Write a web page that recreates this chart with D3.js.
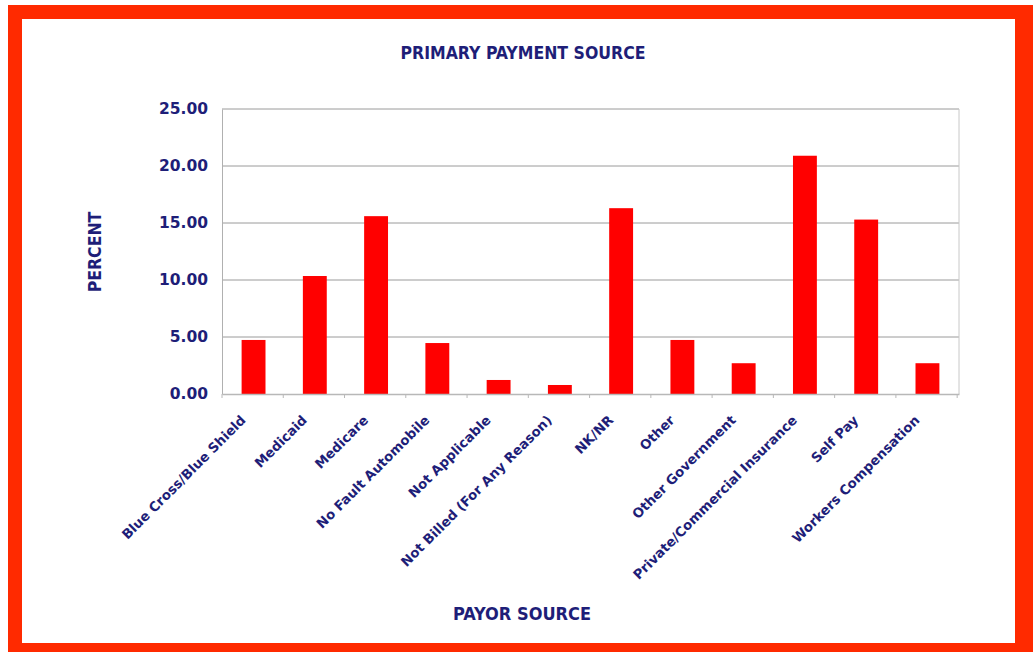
<!DOCTYPE html>
<html><head><meta charset="utf-8">
<script src="https://cdn.jsdelivr.net/npm/d3@7"></script>
<style>
html,body{margin:0;padding:0;background:#fff;}
svg{display:block;}
</style></head>
<body>
<svg id="chart" width="1033" height="652"></svg>
<script>
const categories = ["Blue Cross/Blue Shield","Medicaid","Medicare","No Fault Automobile","Not Applicable","Not Billed (For Any Reason)","NK/NR","Other","Other Government","Private/Commercial Insurance","Self Pay","Workers Compensation"];
const percents = [4.74, 10.35, 15.6, 4.47, 1.23, 0.79, 16.3, 4.74, 2.7, 20.9, 15.3, 2.7];
const yTicks = [0, 5, 10, 15, 20, 25];
const chartTitle = "PRIMARY PAYMENT SOURCE";
const xTitle = "PAYOR SOURCE";
const yTitle = "PERCENT";

(function(){
const svg = d3.select("#chart");
const navy = "#1e1e78";
const fontC = "'DejaVu Sans Condensed','DejaVu Sans',sans-serif";
const fontW = "'DejaVu Sans',sans-serif";

// frame
svg.append("rect").attr("x",8).attr("y",5).attr("width",1025).attr("height",647).attr("fill","#ff2a00");
svg.append("rect").attr("x",22).attr("y",19).attr("width",993).attr("height",624).attr("fill","#fff");

const pL = 222, pR = 959, pT = 109, pB = 394;
const x = d3.scaleBand().domain(categories).range([pL, pR]).paddingInner(0.61).paddingOuter(0.32);
const y = d3.scaleLinear().domain([0, 25]).range([pB, pT]);

// gridlines
svg.append("g").selectAll("line").data(yTicks.filter(d=>d>0)).join("line")
  .attr("x1", pL).attr("x2", pR).attr("y1", d=>y(d)).attr("y2", d=>y(d))
  .attr("stroke", "#9a9a9a").attr("stroke-width", 1);
svg.append("line").attr("x1", pR).attr("x2", pR).attr("y1", pT).attr("y2", pB).attr("stroke","#c8c8c8");

// y axis
const yAxis = d3.axisLeft(y).tickValues(yTicks).tickFormat(d3.format(".2f")).tickSize(0).tickPadding(14);
const gy = svg.append("g").attr("transform", `translate(${pL},0)`).call(yAxis);
gy.select(".domain").attr("stroke", "#b0b0b0");
gy.selectAll("text").attr("fill", navy).attr("font-family", fontW).attr("font-weight","bold").attr("font-size", 15.5);

// bars
svg.append("g").selectAll("rect").data(categories).join("rect")
  .attr("x", d=>x(d)).attr("width", x.bandwidth())
  .attr("y", (d,i)=>y(percents[i])).attr("height", (d,i)=>y(0)-y(percents[i]))
  .attr("fill", "#ff0000");

// x axis
const xAxis = d3.axisBottom(x).tickSize(0).tickPadding(0);
const gx = svg.append("g").attr("transform", `translate(0,${pB})`).call(xAxis);
gx.select(".domain").attr("stroke", "#b8b8b8").attr("stroke-width", 1.5);
const step = x.step();
svg.append("g").selectAll("line").data(d3.range(categories.length+1)).join("line")
  .attr("x1", i=>pL + i*step).attr("x2", i=>pL + i*step)
  .attr("y1", pB).attr("y2", pB+4).attr("stroke", "#b8b8b8");
gx.selectAll(".tick text")
  .attr("fill", navy).attr("font-family", fontW).attr("font-weight","bold").attr("font-size", 13.3)
  .attr("text-anchor","end").attr("dy", 0)
  .attr("transform", "translate(-7,27) rotate(-45)");

// titles
svg.append("text").attr("x", 523).attr("y", 59).attr("text-anchor","middle")
  .attr("fill", navy).attr("font-family", fontC).attr("font-weight","bold").attr("font-size", 17.5).text(chartTitle);
svg.append("text").attr("x", 522).attr("y", 620).attr("text-anchor","middle")
  .attr("fill", navy).attr("font-family", fontC).attr("font-weight","bold").attr("font-size", 18).text(xTitle);
svg.append("text").attr("transform", "translate(101,252) rotate(-90)").attr("text-anchor","middle")
  .attr("fill", navy).attr("font-family", fontC).attr("font-weight","bold").attr("font-size", 17.5).text(yTitle);
})();
</script>
</body></html>
